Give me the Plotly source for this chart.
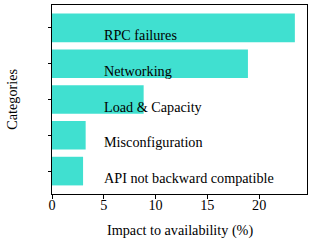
import plotly.graph_objects as go

categories = ["RPC failures", "Networking", "Load & Capacity", "Misconfiguration", "API not backward compatible"]
impact = [23.45, 18.92, 8.85, 3.25, 3.0]
x_ticks = [0, 5, 10, 15, 20]

FONT = "Liberation Serif"
FS = 14.2
pos = list(range(len(categories)))

fig = go.Figure()
fig.add_trace(go.Bar(
    x=impact, y=pos, orientation="h", width=0.8,
    marker=dict(color="#40E0D0", line=dict(width=0)),
    hoverinfo="skip",
))
for i, c in enumerate(categories):
    fig.add_annotation(x=5, y=i + 0.2, text=c, xanchor="left", yanchor="middle",
                       showarrow=False, xshift=-2,
                       font=dict(family=FONT, size=FS, color="black"))

fig.add_annotation(x=0.5, y=-0.14, xref="paper", yref="paper", yanchor="top",
                   text="Impact to availability (%)", showarrow=False,
                   font=dict(family=FONT, size=FS, color="black"))
fig.add_annotation(x=-0.16, y=0.5, xref="paper", yref="paper", xanchor="center",
                   text="Categories", showarrow=False, textangle=-90,
                   font=dict(family=FONT, size=FS, color="black"))

xmax = max(impact) * 1.05
fig.update_layout(
    width=312, height=242,
    margin=dict(l=52, r=5, t=5, b=48, autoexpand=False),
    paper_bgcolor="white", plot_bgcolor="white",
    showlegend=False,
    font=dict(family=FONT, size=FS, color="black"),
    xaxis=dict(range=[0, xmax], tickvals=x_ticks, ticks="outside", ticklen=3.5,
               tickcolor="black", showline=True, linecolor="black", linewidth=1,
               mirror=True, showgrid=False, zeroline=False, automargin=False,
               ticklabelstandoff=-6,
               tickfont=dict(family=FONT, size=FS)),
    yaxis=dict(range=[len(categories) - 0.36, -0.64], tickvals=pos,
               showticklabels=False, ticks="outside", ticklen=3.5,
               tickcolor="black", showline=True, linecolor="black", linewidth=1,
               mirror=True, showgrid=False, zeroline=False, automargin=False),
)
fig.write_html("out.html", config={"displayModeBar": False, "staticPlot": True},
               post_script="document.body.style.margin='0';document.body.style.padding='0';")
